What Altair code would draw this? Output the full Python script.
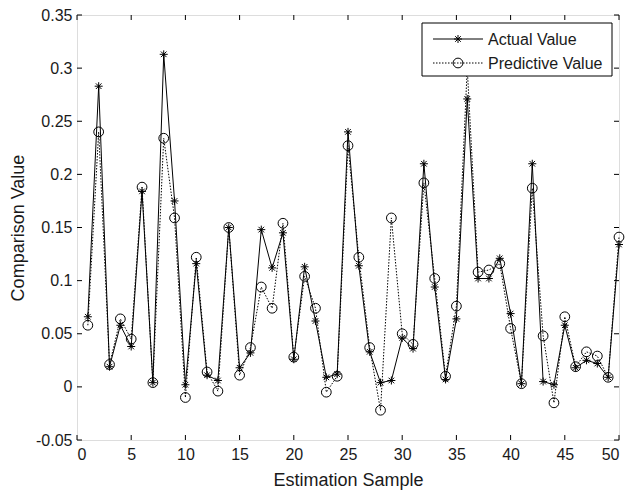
import altair as alt
import pandas as pd

samples = list(range(1, 51))
actual = [0.066, 0.283, 0.019, 0.058, 0.038, 0.184, 0.004, 0.313, 0.175, 0.002,
          0.116, 0.011, 0.006, 0.150, 0.018, 0.032, 0.148, 0.112, 0.145, 0.026,
          0.113, 0.062, 0.009, 0.012, 0.240, 0.114, 0.033, 0.004, 0.006, 0.046,
          0.036, 0.210, 0.094, 0.007, 0.064, 0.271, 0.102, 0.102, 0.121, 0.069,
          0.003, 0.210, 0.005, 0.002, 0.058, 0.018, 0.025, 0.022, 0.009, 0.134]
predicted = [0.058, 0.240, 0.021, 0.064, 0.045, 0.188, 0.004, 0.234, 0.159, -0.010,
             0.122, 0.014, -0.004, 0.150, 0.011, 0.037, 0.094, 0.074, 0.154, 0.028,
             0.104, 0.074, -0.005, 0.010, 0.227, 0.122, 0.037, -0.022, 0.159, 0.050,
             0.040, 0.192, 0.102, 0.010, 0.076, 0.300, 0.108, 0.110, 0.116, 0.055,
             0.003, 0.187, 0.048, -0.015, 0.066, 0.019, 0.033, 0.029, 0.009, 0.141]
x_ticks = [0, 5, 10, 15, 20, 25, 30, 35, 40, 45, 50]
y_ticks = [-0.05, 0.0, 0.05, 0.10, 0.15, 0.20, 0.25, 0.30, 0.35]
legend_labels = ["Actual Value", "Predictive Value"]

W, H = 542, 425
FONT = "Liberation Sans"
TXT = "#1a1a1a"
ASTERISK = "M-1,0L1,0M0,-1L0,1M-0.7,-0.7L0.7,0.7M-0.7,0.7L0.7,-0.7"

df = pd.DataFrame({"sample": samples, "actual": actual, "predicted": predicted})
xt = pd.DataFrame({"sample": x_ticks})
yt = pd.DataFrame({"actual": y_ticks})
one = pd.DataFrame({"k": [0]})

xscale = alt.Scale(domain=[0, 50], nice=False, zero=False)
yscale = alt.Scale(domain=[-0.05, 0.35], nice=False, zero=False)

xaxis = alt.Axis(values=x_ticks, title="Estimation Sample", domain=False, ticks=False,
                 grid=False, labelPadding=6, titlePadding=9, labelFontSize=16,
                 titleFontSize=18, labelFont=FONT, titleFont=FONT, labelColor=TXT,
                 titleColor=TXT, titleFontWeight="normal")
yaxis = alt.Axis(values=y_ticks, title="Comparison Value", domain=False, ticks=False,
                 grid=False, labelPadding=5, titlePadding=8, labelFontSize=16,
                 titleFontSize=18, labelFont=FONT, titleFont=FONT, labelColor=TXT,
                 titleColor=TXT, titleFontWeight="normal",
                 labelExpr="replace(format(datum.value, '.2~f'), '\u2212', '-')")

base = alt.Chart(df)
X = alt.X("sample:Q", scale=xscale, axis=xaxis)
Y_act = alt.Y("actual:Q", scale=yscale, axis=yaxis)
Y_pred = alt.Y("predicted:Q", scale=yscale, axis=yaxis)

pred_line = base.mark_line(color="black", strokeWidth=1, strokeDash=[1.5, 1.5]).encode(x=X, y=Y_pred)
pred_pts = base.mark_point(shape="circle", size=95, filled=False, color="black",
                           strokeWidth=1, opacity=1).encode(x=X, y=Y_pred)
act_line = base.mark_line(color="black", strokeWidth=1).encode(x=X, y=Y_act)
act_pts = base.mark_point(shape=ASTERISK, size=64, filled=False, color="black",
                          strokeWidth=1, opacity=1).encode(x=X, y=Y_act)

bx = alt.Chart(xt).mark_rule(color="black", strokeWidth=1).encode(x=X, y=alt.value(H), y2=alt.value(H - 5))
tx = alt.Chart(xt).mark_rule(color="black", strokeWidth=1).encode(x=X, y=alt.value(0), y2=alt.value(5))
ly = alt.Chart(yt).mark_rule(color="black", strokeWidth=1).encode(y=Y_act, x=alt.value(0), x2=alt.value(5))
ry = alt.Chart(yt).mark_rule(color="black", strokeWidth=1).encode(y=Y_act, x=alt.value(W), x2=alt.value(W - 5))

# legend (single-row data so each element is drawn once)
lg = alt.Chart(one)
lg_box = lg.mark_rect(fill="white", stroke="black", strokeWidth=1).encode(
    x=alt.value(345), x2=alt.value(535), y=alt.value(8), y2=alt.value(61))
lg_l1 = lg.mark_rule(color="black", strokeWidth=1).encode(
    x=alt.value(356), x2=alt.value(406), y=alt.value(24))
lg_m1 = lg.mark_point(shape=ASTERISK, size=64, filled=False, color="black",
                      strokeWidth=1, opacity=1).encode(x=alt.value(381), y=alt.value(24))
lg_l2 = lg.mark_rule(color="black", strokeWidth=1, strokeDash=[1.5, 1.5]).encode(
    x=alt.value(356), x2=alt.value(406), y=alt.value(48))
lg_m2 = lg.mark_point(shape="circle", size=95, filled=False, color="black",
                      strokeWidth=1, opacity=1).encode(x=alt.value(381), y=alt.value(48))
lg_t1 = lg.mark_text(text=legend_labels[0], align="left", baseline="middle",
                     font=FONT, fontSize=16, color=TXT).encode(x=alt.value(411), y=alt.value(25))
lg_t2 = lg.mark_text(text=legend_labels[1], align="left", baseline="middle",
                     font=FONT, fontSize=16, color=TXT).encode(x=alt.value(411), y=alt.value(49))

chart = alt.layer(
    pred_line, act_line, pred_pts, act_pts, bx, tx, ly, ry,
    lg_box, lg_l1, lg_m1, lg_l2, lg_m2, lg_t1, lg_t2
).properties(
    width=W, height=H,
    autosize=alt.AutoSizeParams(type="none"),
    padding={"left": 77, "top": 15, "right": 8, "bottom": 54},
).configure_view(stroke="black", strokeWidth=1).configure(background="white")

chart.save("out.html", embed_options={"renderer": "svg", "actions": False})
